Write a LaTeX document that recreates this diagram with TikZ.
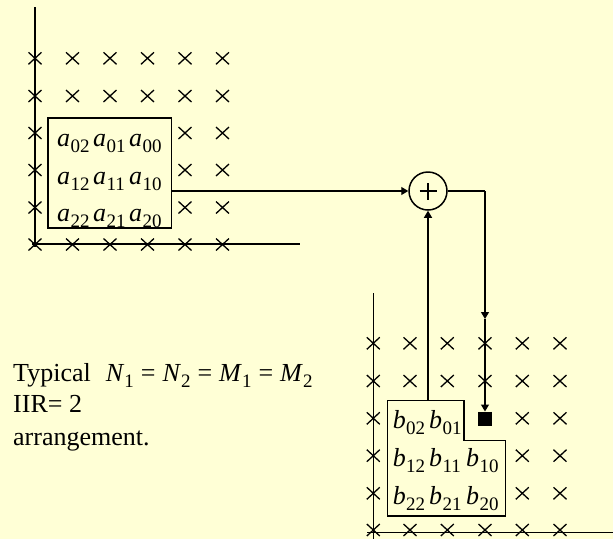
\documentclass[tikz,border=0pt]{standalone}
\usepackage{fontspec}
\setmainfont{Liberation Serif}
\usetikzlibrary{arrows.meta}
\definecolor{bg}{RGB}{255,255,214}
\newcommand{\sbsc}[1]{\raisebox{-6pt}{\fontsize{19}{19}\selectfont #1}}
\newcommand{\mel}[2]{\textit{#1}\kern0.3pt\sbsc{#2}}
\newcommand{\eqs}{\hspace{7pt}=\hspace{7pt}}
\begin{document}
\begin{tikzpicture}[x=1pt,y=-1pt,
  axis/.style={line width=1.5pt},
  xline/.style={line width=1.3pt},
  boxline/.style={line width=1.5pt, fill=bg},
  conn/.style={line width=1.3pt},
  arr/.style={line width=1.3pt, -{Triangle[length=7pt,width=8pt]}},
  entry/.style={inner sep=0pt, anchor=base west, font=\fontsize{26}{26}\selectfont},
  label/.style={inner sep=0pt, anchor=base west, font=\fontsize{26}{26}\selectfont}]
\fill[bg] (0,0) rectangle (613,539);
\useasboundingbox (0,0) rectangle (613,539);
% top-left grid
\foreach \x in {35,72.5,110,147.5,185,222.5}
  \foreach \y in {58.3,96,133,170,207.5,244.5}
    \draw[xline] (\x-6.5,\y-6) -- (\x+6.5,\y+6) (\x-6.5,\y+6) -- (\x+6.5,\y-6);
\draw[axis] (35,7) -- (35,247);
\draw[axis] (32,244) -- (300,244);
% box a
\node[draw, boxline, inner sep=0pt, minimum width=123.4pt, minimum height=110pt, anchor=north west] (boxa) at (47.3,117.3) {};
\foreach \r/\y in {0/146,1/184,2/221}
  \foreach \c/\x in {2/57,1/93,0/129}
    \node[entry] (a\r\c) at (\x,\y) {\mel{a}{\r\c}};
% bottom-right grid
\foreach \x in {373.3,410,447.3,485,522.3,560}
  \foreach \y in {343.3,381,418.3,455.7,493.3,530}
    \draw[xline] (\x-6.5,\y-6) -- (\x+6.5,\y+6) (\x-6.5,\y+6) -- (\x+6.5,\y-6);
\draw[axis] (373.3,293) -- (373.3,539);
\draw[axis] (367,532.3) -- (613,532.3);
% box b
\coordinate (bnw) at (387.3,400.7);
\draw[boxline] (bnw) -- (464,400.7) -- (464,440.7) -- (505.7,440.7) -- (505.7,516) -- (387.3,516) -- cycle;
\foreach \r/\y in {0/428,1/466,2/504}
  \foreach \c/\x in {2/392.7,1/429,0/466}
    {\ifnum\r\c=0 \else \node[entry] (b\r\c) at (\x,\y) {\mel{b}{\r\c}};\fi}
% the gap cell
\node[fill=black, inner sep=0pt, minimum size=14pt] (sq) at (485,418.7) {};
% summation node
\node[draw, circle, line width=1.5pt, fill=bg, inner sep=0pt, minimum size=38pt] (sum) at (428,191) {};
\draw[line width=2.8pt] ([xshift=-8.5pt]sum.center) -- ([xshift=8.5pt]sum.center);
\draw[line width=2.8pt] ([yshift=-8.5pt]sum.center) -- ([yshift=8.5pt]sum.center);
% connectors
\draw[arr] (boxa.east |- sum.west) -- (sum.west);
\coordinate (btop) at (428,400.7);
\draw[arr] (btop) -- (sum.south);
\coordinate (bend) at (sum.east -| sq.north);
\coordinate (mid) at (sq.north |- 0,319);
\draw[conn] (sum.east) -- (bend);
\draw[arr] (bend) -- (mid);
\draw[arr] (mid) -- (sq.north);
% caption
\node[label] (t1) at (13,381.5) {Typical\hspace{15pt}\textit{N}\sbsc{1}\eqs\textit{N}\sbsc{2}\eqs\textit{M}\sbsc{1}\eqs\textit{M}\sbsc{2}};
\node[label] (t2) at (13,412.5) {IIR= 2};
\node[label] (t3) at (13,445) {arrangement.};
\end{tikzpicture}
\end{document}
